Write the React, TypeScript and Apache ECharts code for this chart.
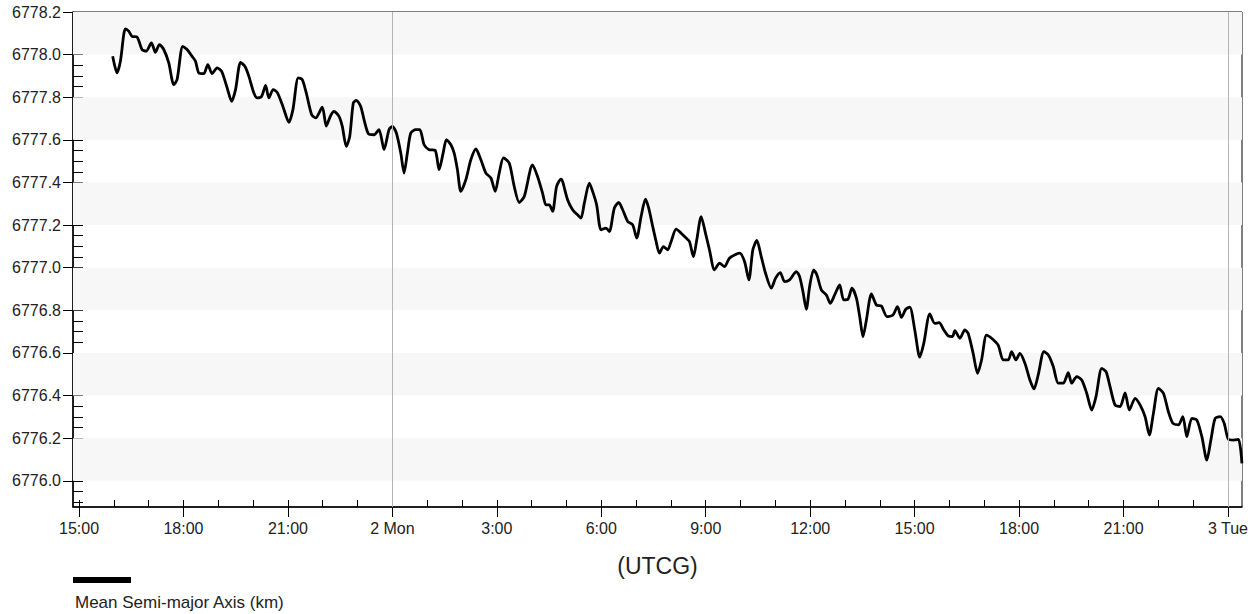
import React, { useEffect, useRef } from "react";
import * as echarts from "echarts";

// Hours relative to 2 Mon 00:00 UTCG
const hours: number[] = [
  -8.033, -7.909, -7.811, -7.668, -7.573, -7.478, -7.334, -7.19, -7.075, -6.92,
  -6.805, -6.69, -6.566, -6.422, -6.278, -6.183, -6.02, -5.896, -5.752, -5.654,
  -5.559, -5.416, -5.301, -5.177, -5.033, -4.906, -4.745, -4.619, -4.504, -4.36,
  -4.236, -4.121, -3.978, -3.883, -3.756, -3.641, -3.546, -3.423, -3.307, -3.144,
  -2.971, -2.856, -2.703, -2.588, -2.473, -2.318, -2.203, -2.013, -1.898, -1.772,
  -1.677, -1.533, -1.438, -1.323, -1.225, -1.122, -1.035, -0.909, -0.814, -0.69,
  -0.526, -0.383, -0.239, -0.095, 0.0, 0.115, 0.242, 0.336, 0.431, 0.529,
  0.673, 0.788, 0.912, 1.056, 1.228, 1.343, 1.458, 1.553, 1.68, 1.775,
  1.869, 1.967, 2.111, 2.255, 2.399, 2.542, 2.686, 2.83, 2.954, 3.069,
  3.192, 3.356, 3.5, 3.644, 3.788, 4.026, 4.17, 4.314, 4.412, 4.507,
  4.602, 4.717, 4.843, 4.889, 5.033, 5.177, 5.321, 5.418, 5.513, 5.657,
  5.752, 5.867, 5.994, 6.137, 6.232, 6.376, 6.5, 6.615, 6.759, 6.903,
  7.018, 7.144, 7.268, 7.363, 7.478, 7.576, 7.67, 7.785, 7.909, 8.007,
  8.151, 8.295, 8.438, 8.533, 8.648, 8.743, 8.87, 8.993, 9.108, 9.252,
  9.396, 9.54, 9.684, 9.971, 10.115, 10.239, 10.354, 10.469, 10.595, 10.719,
  10.883, 11.007, 11.142, 11.266, 11.409, 11.602, 11.697, 11.792, 11.89, 11.984,
  12.099, 12.194, 12.321, 12.465, 12.58, 12.703, 12.847, 12.962, 13.086, 13.201,
  13.328, 13.423, 13.518, 13.615, 13.759, 13.903, 14.047, 14.208, 14.38, 14.507,
  14.622, 14.746, 14.861, 15.004, 15.148, 15.263, 15.436, 15.579, 15.703, 15.838,
  15.962, 16.089, 16.155, 16.299, 16.442, 16.537, 16.681, 16.808, 16.923, 17.066,
  17.21, 17.4, 17.544, 17.688, 17.786, 17.909, 18.024, 18.168, 18.312, 18.427,
  18.55, 18.714, 18.838, 18.982, 19.126, 19.27, 19.413, 19.511, 19.655, 19.799,
  19.943, 20.086, 20.21, 20.374, 20.498, 20.613, 20.756, 20.9, 21.044, 21.168,
  21.332, 21.475, 21.619, 21.743, 21.858, 22.002, 22.146, 22.289, 22.416, 22.577,
  22.704, 22.819, 22.962, 23.106, 23.25, 23.394, 23.509, 23.632, 23.776, 23.891,
  24.015, 24.159, 24.303, 24.401,
];

// Mean semi-major axis (km)
const sma: number[] = [
  6777.992, 6777.914, 6777.969, 6778.121, 6778.11, 6778.086, 6778.083, 6778.024, 6778.016, 6778.055,
  6778.011, 6778.047, 6778.024, 6777.961, 6777.859, 6777.883, 6778.039, 6778.024, 6777.992, 6777.969,
  6777.914, 6777.911, 6777.953, 6777.911, 6777.938, 6777.922, 6777.844, 6777.781, 6777.836, 6777.964,
  6777.945, 6777.898, 6777.82, 6777.797, 6777.804, 6777.855, 6777.797, 6777.836, 6777.823, 6777.757,
  6777.682, 6777.742, 6777.891, 6777.883, 6777.82, 6777.718, 6777.703, 6777.754, 6777.665, 6777.714,
  6777.734, 6777.71, 6777.663, 6777.569, 6777.616, 6777.773, 6777.785, 6777.757, 6777.695, 6777.629,
  6777.624, 6777.648, 6777.554, 6777.648, 6777.663, 6777.632, 6777.538, 6777.444, 6777.538, 6777.632,
  6777.648, 6777.648, 6777.577, 6777.554, 6777.551, 6777.46, 6777.538, 6777.601, 6777.577, 6777.538,
  6777.46, 6777.358, 6777.413, 6777.507, 6777.557, 6777.507, 6777.444, 6777.421, 6777.358, 6777.444,
  6777.515, 6777.491, 6777.381, 6777.306, 6777.334, 6777.483, 6777.428, 6777.35, 6777.295, 6777.295,
  6777.264, 6777.381, 6777.416, 6777.405, 6777.319, 6777.272, 6777.248, 6777.233, 6777.303, 6777.397,
  6777.358, 6777.295, 6777.178, 6777.186, 6777.17, 6777.28, 6777.306, 6777.272, 6777.217, 6777.201,
  6777.139, 6777.24, 6777.322, 6777.28, 6777.193, 6777.123, 6777.068, 6777.099, 6777.084, 6777.123,
  6777.181, 6777.162, 6777.139, 6777.123, 6777.052, 6777.131, 6777.24, 6777.162, 6777.084, 6776.99,
  6777.021, 6777.005, 6777.045, 6777.068, 6777.029, 6776.943, 6777.084, 6777.128, 6777.052, 6776.974,
  6776.904, 6776.951, 6776.977, 6776.935, 6776.943, 6776.982, 6776.958, 6776.888, 6776.805, 6776.911,
  6776.99, 6776.966, 6776.896, 6776.872, 6776.833, 6776.872, 6776.919, 6776.849, 6776.852, 6776.904,
  6776.857, 6776.77, 6776.676, 6776.755, 6776.877, 6776.825, 6776.82, 6776.77, 6776.778, 6776.817,
  6776.767, 6776.805, 6776.815, 6776.708, 6776.58, 6776.645, 6776.783, 6776.739, 6776.742, 6776.708,
  6776.68, 6776.677, 6776.705, 6776.669, 6776.708, 6776.692, 6776.598, 6776.504, 6776.567, 6776.684,
  6776.669, 6776.637, 6776.567, 6776.567, 6776.606, 6776.567, 6776.598, 6776.552, 6776.473, 6776.431,
  6776.497, 6776.606, 6776.591, 6776.536, 6776.458, 6776.458, 6776.507, 6776.458, 6776.489, 6776.473,
  6776.411, 6776.332, 6776.395, 6776.528, 6776.512, 6776.442, 6776.356, 6776.348, 6776.413, 6776.332,
  6776.387, 6776.356, 6776.301, 6776.215, 6776.316, 6776.434, 6776.411, 6776.324, 6776.27, 6776.262,
  6776.301, 6776.207, 6776.293, 6776.285, 6776.207, 6776.097, 6776.191, 6776.293, 6776.301, 6776.27,
  6776.194, 6776.191, 6776.194, 6776.082,
];

// Axis tick values
const xMajorTicks: number[] = [-9, -6, -3, 0, 3, 6, 9, 12, 15, 18, 21, 24];
const xMinorTicks: number[] = [
  -9, -8, -7, -6, -5, -4, -3, -2, -1, 0, 1, 2, 3, 4, 5, 6, 7, 8, 9, 10, 11, 12,
  13, 14, 15, 16, 17, 18, 19, 20, 21, 22, 23, 24,
];
const yMajorTicks: number[] = [
  6776.0, 6776.2, 6776.4, 6776.6, 6776.8, 6777.0, 6777.2, 6777.4, 6777.6, 6777.8, 6778.0, 6778.2,
];
const yMinorTicks: number[] = [
  6775.9, 6775.95, 6776.0, 6776.05, 6776.1, 6776.15, 6776.2, 6776.25, 6776.3, 6776.35,
  6776.4, 6776.45, 6776.5, 6776.55, 6776.6, 6776.65, 6776.7, 6776.75, 6776.8, 6776.85,
  6776.9, 6776.95, 6777.0, 6777.05, 6777.1, 6777.15, 6777.2, 6777.25, 6777.3, 6777.35,
  6777.4, 6777.45, 6777.5, 6777.55, 6777.6, 6777.65, 6777.7, 6777.75, 6777.8, 6777.85,
  6777.9, 6777.95, 6778.0, 6778.05, 6778.1, 6778.15,
];
const bandRanges: [number, number][] = [
  [6776.0, 6776.2], [6776.4, 6776.6], [6776.8, 6777.0],
  [6777.2, 6777.4], [6777.6, 6777.8], [6778.0, 6778.2],
];
const dayLines: number[] = [0, 24];
const seriesName = "Mean Semi-major Axis (km)";
const axisTitle = "(UTCG)";

const FONT = "'Liberation Sans', Arial, sans-serif";

function xLabel(h: number): string {
  if (h === 0) return "2 Mon";
  if (h === 24) return "3 Tue";
  const hh = ((h % 24) + 24) % 24;
  return `${hh}:00`;
}

export default function App() {
  const ref = useRef<HTMLDivElement>(null);
  useEffect(() => {
    if (!ref.current) return;
    const chart = echarts.init(ref.current, undefined, { renderer: "svg" });
    const data = hours.map((h, i) => [h, sma[i]]);
    const xMin = -9.1726;
    const xMax = 24.403;
    const yMin = 6775.877;
    const yMax = 6778.2;
    chart.setOption({
      animation: false,
      backgroundColor: "#fff",
      grid: {
        left: 73,
        right: 14,
        top: 12,
        bottom: 107,
        show: true,
        borderColor: "#000",
        borderWidth: 1,
        backgroundColor: "transparent",
      },
      xAxis: [
        {
          type: "value",
          min: xMin,
          max: xMax,
          name: axisTitle,
          nameLocation: "middle",
          nameGap: 47,
          nameTextStyle: { fontSize: 23, color: "#222", fontFamily: FONT },
          axisLine: { show: true, onZero: false, lineStyle: { color: "#000", width: 1.5 } },
          axisTick: {
            show: true,
            customValues: xMajorTicks,
            length: 10,
            inside: false,
            lineStyle: { color: "#000", width: 1 },
          },
          axisLabel: {
            customValues: xMajorTicks,
            formatter: (v: number) => xLabel(Math.round(v)),
            fontSize: 16,
            color: "#222",
            fontFamily: FONT,
            margin: 13,
          },
          splitLine: { show: false },
        },
        {
          type: "value",
          min: xMin,
          max: xMax,
          position: "bottom",
          axisLine: { show: false, onZero: false },
          axisTick: {
            show: true,
            customValues: xMinorTicks,
            length: 7,
            inside: true,
            lineStyle: { color: "#000", width: 1 },
          },
          axisLabel: { show: false },
          splitLine: { show: false },
        },
      ],
      yAxis: [
        {
          type: "value",
          min: yMin,
          max: yMax,
          axisLine: { show: true, onZero: false, lineStyle: { color: "#000", width: 1.5 } },
          axisTick: {
            show: true,
            customValues: yMajorTicks,
            length: 10,
            inside: false,
            lineStyle: { color: "#000", width: 1 },
          },
          axisLabel: {
            customValues: yMajorTicks,
            formatter: (v: number) => v.toFixed(1),
            fontSize: 16,
            color: "#222",
            fontFamily: FONT,
            margin: 12,
          },
          splitLine: { show: false },
        },
        {
          type: "value",
          min: yMin,
          max: yMax,
          position: "left",
          axisLine: { show: false, onZero: false },
          axisTick: {
            show: true,
            customValues: yMinorTicks,
            length: 10,
            inside: true,
            lineStyle: { color: "#000", width: 1 },
          },
          axisLabel: { show: false },
          splitLine: { show: false },
        },
      ],
      series: [
        {
          type: "line",
          name: "bands",
          xAxisIndex: 0,
          yAxisIndex: 0,
          data: data,
          showSymbol: false,
          silent: true,
          lineStyle: { opacity: 0, width: 0 },
          markArea: {
            silent: true,
            itemStyle: { color: "#f7f7f7" },
            data: bandRanges.map((r) => [{ yAxis: r[0] }, { yAxis: r[1] }]),
          },
          markLine: {
            silent: true,
            symbol: "none",
            label: { show: false },
            lineStyle: { color: "#b4b4b4", width: 1, type: "solid" },
            data: dayLines.map((d) => ({ xAxis: d })),
          },
        },
        {
          type: "line",
          name: seriesName,
          xAxisIndex: 0,
          yAxisIndex: 0,
          data: data,
          showSymbol: false,
          smooth: 0.25,
          lineStyle: { color: "#000", width: 2.8 },
          itemStyle: { color: "#000" },
        },
      ],
      graphic: [
        {
          type: "rect",
          left: 73,
          top: 577,
          shape: { width: 58, height: 6 },
          style: { fill: "#000" },
        },
        {
          type: "text",
          left: 75,
          top: 594,
          style: {
            text: seriesName,
            fontSize: 17,
            fill: "#222",
            fontFamily: FONT,
          },
        },
      ],
    });
    return () => chart.dispose();
  }, []);
  return (
    <div
      ref={ref}
      style={{ position: "fixed", left: 0, top: 0, width: 1256, height: 614 }}
    />
  );
}
